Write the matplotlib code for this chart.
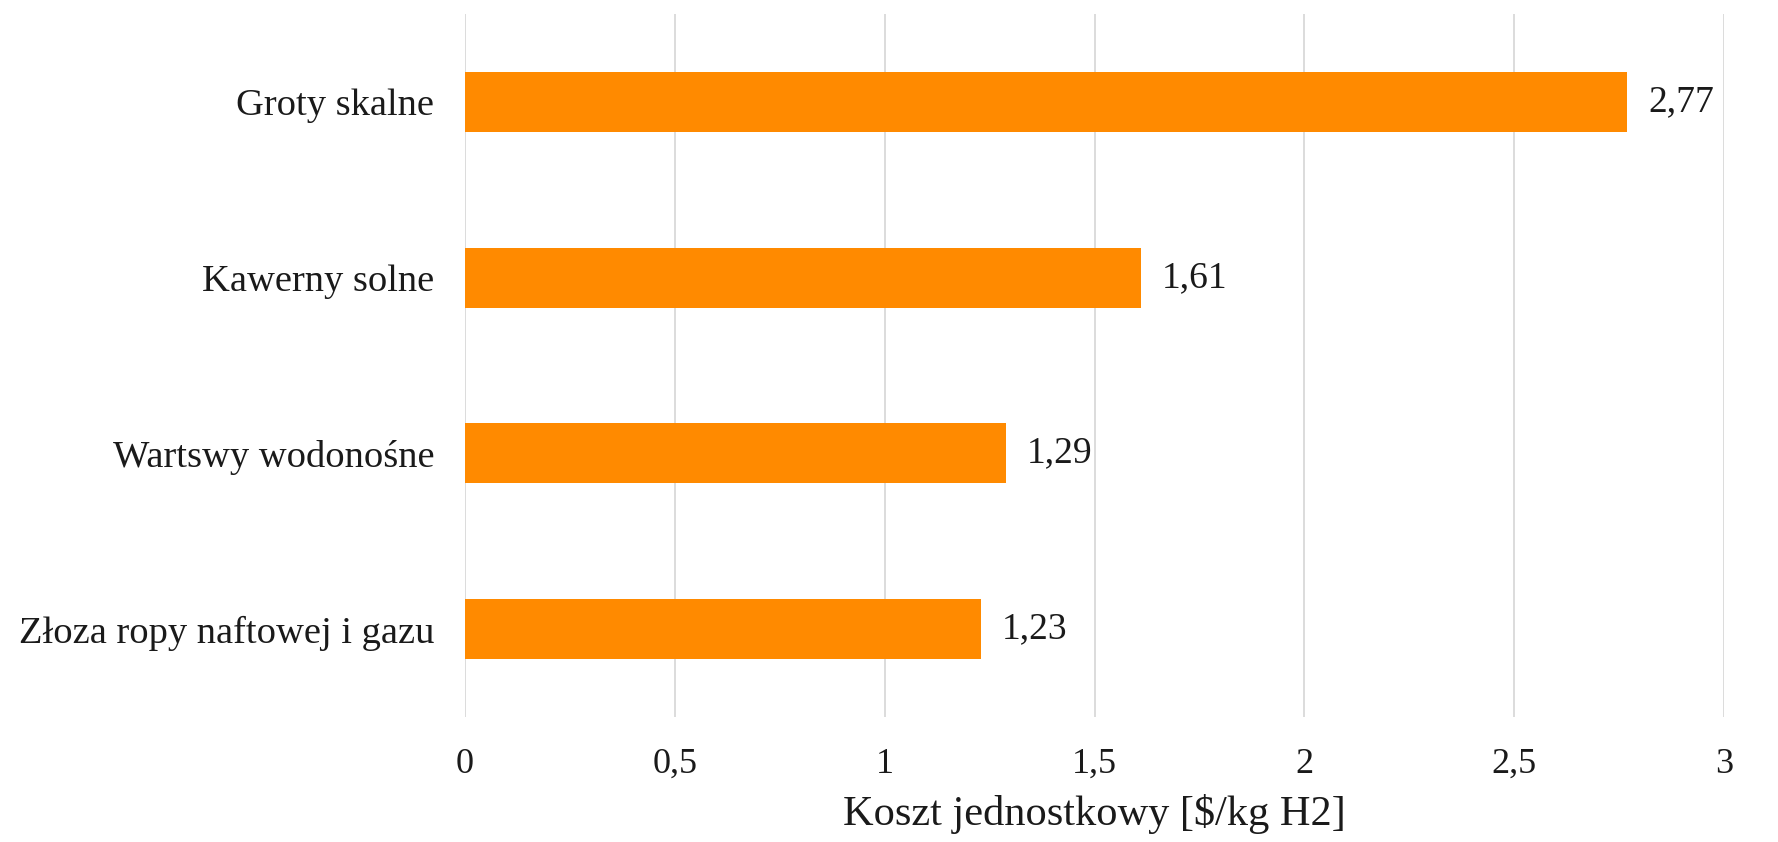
import matplotlib
matplotlib.use("Agg")
import matplotlib.pyplot as plt

categories = ["Groty skalne", "Kawerny solne", "Wartswy wodonośne", "Złoza ropy naftowej i gazu"]
costs = [2.77, 1.61, 1.29, 1.23]
x_ticks = [0, 0.5, 1, 1.5, 2, 2.5, 3]
x_tick_labels = ["0", "0,5", "1", "1,5", "2", "2,5", "3"]
x_label = "Koszt jednostkowy [$/kg H2]"

plt.rcParams["font.family"] = ["Liberation Serif", "DejaVu Serif"]

W, H = 1778, 842
fig = plt.figure(figsize=(W / 100, H / 100), dpi=100)
ax = fig.add_axes([465 / W, 1 - 717 / H, (1724 - 465) / W, (717 - 14) / H])

text_color = "#1a1a1a"
ypos = list(range(len(categories)))
ax.barh(ypos, costs, height=0.34, color="#ff8a00", zorder=3)
for y, v in zip(ypos, costs):
    ax.annotate(f"{v:.2f}".replace(".", ","), xy=(v, y), xytext=(15, 0),
                textcoords="offset points", va="center", ha="left",
                fontsize=27, color=text_color)

ax.set_ylim(len(categories) - 0.5, -0.5)
ax.set_xlim(0, 3)
ax.set_yticks(ypos)
ax.set_yticklabels(categories, fontsize=27.7, color=text_color)
ax.set_xticks(x_ticks)
ax.set_xticklabels(x_tick_labels, fontsize=26, color=text_color)
ax.tick_params(axis="both", length=0)
ax.tick_params(axis="y", pad=22)
ax.tick_params(axis="x", pad=22)
ax.set_xlabel(x_label, fontsize=30.5, color=text_color, va="center")
ax.xaxis.set_label_coords(0.5, -(814 - 717) / (717 - 14))

ax.grid(axis="x", color="#d9d9d9", linewidth=1.3, zorder=0)
for s in ax.spines.values():
    s.set_visible(False)

fig.savefig("out.png", dpi=100)
